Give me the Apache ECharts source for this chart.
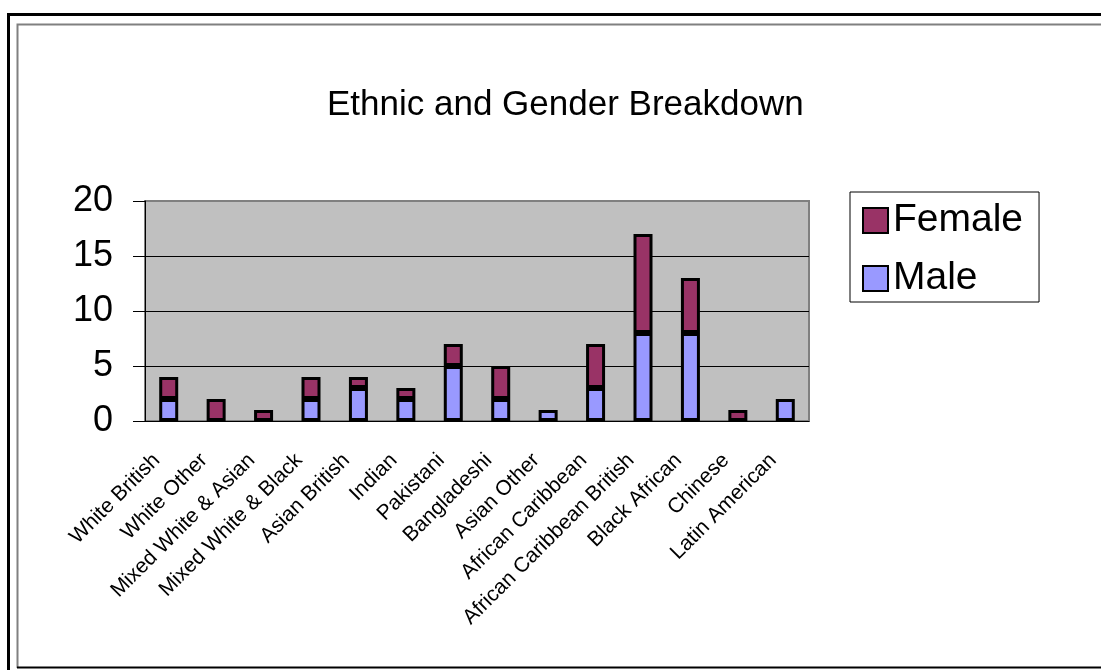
<!DOCTYPE html>
<html>
<head>
<meta charset="utf-8">
<title>Ethnic and Gender Breakdown</title>
<script src="https://cdn.jsdelivr.net/npm/echarts@6/dist/echarts.min.js"></script>
<style>
  html, body { margin: 0; padding: 0; background: #fff; }
  #chart { width: 1101px; height: 670px; }
</style>
</head>
<body>
<div id="chart"></div>
<script>
// categories along the x axis
var categories = ['White British', 'White Other', 'Mixed White & Asian', 'Mixed White & Black',
  'Asian British', 'Indian', 'Pakistani', 'Bangladeshi', 'Asian Other', 'African Caribbean',
  'African Caribbean British', 'Black African', 'Chinese', 'Latin American'];
// counts per category
var male = [2, 0, 0, 2, 3, 2, 5, 2, 1, 3, 8, 8, 0, 2];
var female = [2, 2, 1, 2, 1, 1, 2, 3, 0, 4, 9, 5, 1, 0];
var yTicks = [0, 5, 10, 15, 20];

var font = 'Arial, "Liberation Sans", sans-serif';

// empty segments are left out so no flat bar is drawn on the axis
function gaps(arr) {
  return arr.map(function (v) { return v === 0 ? '-' : v; });
}

var chart = echarts.init(document.getElementById('chart'));
var option = {
  animation: false,
  backgroundColor: '#fff',
  textStyle: { fontFamily: font, color: '#000' },
  graphic: [
    {
      type: 'rect',
      shape: { x: 8.5, y: 14.5, width: 1200, height: 700 },
      style: { fill: 'none', stroke: '#000', lineWidth: 3 },
      silent: true
    },
    {
      type: 'polyline',
      shape: { points: [[17.5, 668], [17.5, 24.5], [1200, 24.5]] },
      style: { fill: 'none', stroke: '#808080', lineWidth: 2 },
      silent: true
    },
    {
      type: 'line',
      shape: { x1: 17, y1: 667.5, x2: 1200, y2: 667.5 },
      style: { stroke: '#000', lineWidth: 2 },
      silent: true
    }
  ],
  title: {
    text: 'Ethnic and Gender Breakdown',
    left: 322,
    top: 83,
    textStyle: { fontFamily: font, fontSize: 35, fontWeight: 'normal', color: '#000' }
  },
  legend: {
    data: ['Female', 'Male'],
    orient: 'vertical',
    left: 850,
    top: 192,
    padding: [9, 16, 4, 12],
    itemWidth: 25,
    itemHeight: 25,
    itemGap: 19,
    icon: 'rect',
    borderColor: '#000',
    borderWidth: 1,
    itemStyle: { borderColor: '#000', borderWidth: 2 },
    textStyle: { fontFamily: font, fontSize: 39, lineHeight: 39, color: '#000' }
  },
  grid: {
    left: 145,
    top: 201,
    right: 292,
    bottom: 249,
    show: true,
    backgroundColor: '#C0C0C0',
    borderColor: '#808080',
    borderWidth: 2
  },
  xAxis: {
    type: 'category',
    data: categories,
    axisLine: { lineStyle: { color: '#000', width: 1 } },
    axisTick: { length: 6, lineStyle: { color: '#000' } },
    axisLabel: {
      rotate: 45,
      interval: 0,
      margin: 24,
      padding: [0, 17, 0, 0],
      fontSize: 21,
      fontFamily: font,
      color: '#000'
    }
  },
  yAxis: {
    type: 'value',
    min: yTicks[0],
    max: yTicks[yTicks.length - 1],
    interval: 5,
    axisLine: { show: true, lineStyle: { color: '#000', width: 1 } },
    axisTick: { show: true, length: 12, lineStyle: { color: '#000' } },
    axisLabel: { fontSize: 36, fontFamily: font, color: '#000', margin: 32 },
    splitLine: { lineStyle: { color: ['#000', '#000', '#000', '#000', '#808080'], width: 1 } }
  },
  series: [
    {
      name: 'Male',
      type: 'bar',
      stack: 'total',
      barWidth: 19,
      data: gaps(male),
      itemStyle: { color: '#9999FF', borderColor: '#000', borderWidth: 3 }
    },
    {
      name: 'Female',
      type: 'bar',
      stack: 'total',
      barWidth: 19,
      data: gaps(female),
      itemStyle: { color: '#993366', borderColor: '#000', borderWidth: 3 }
    }
  ]
};
chart.setOption(option);
</script>
</body>
</html>
